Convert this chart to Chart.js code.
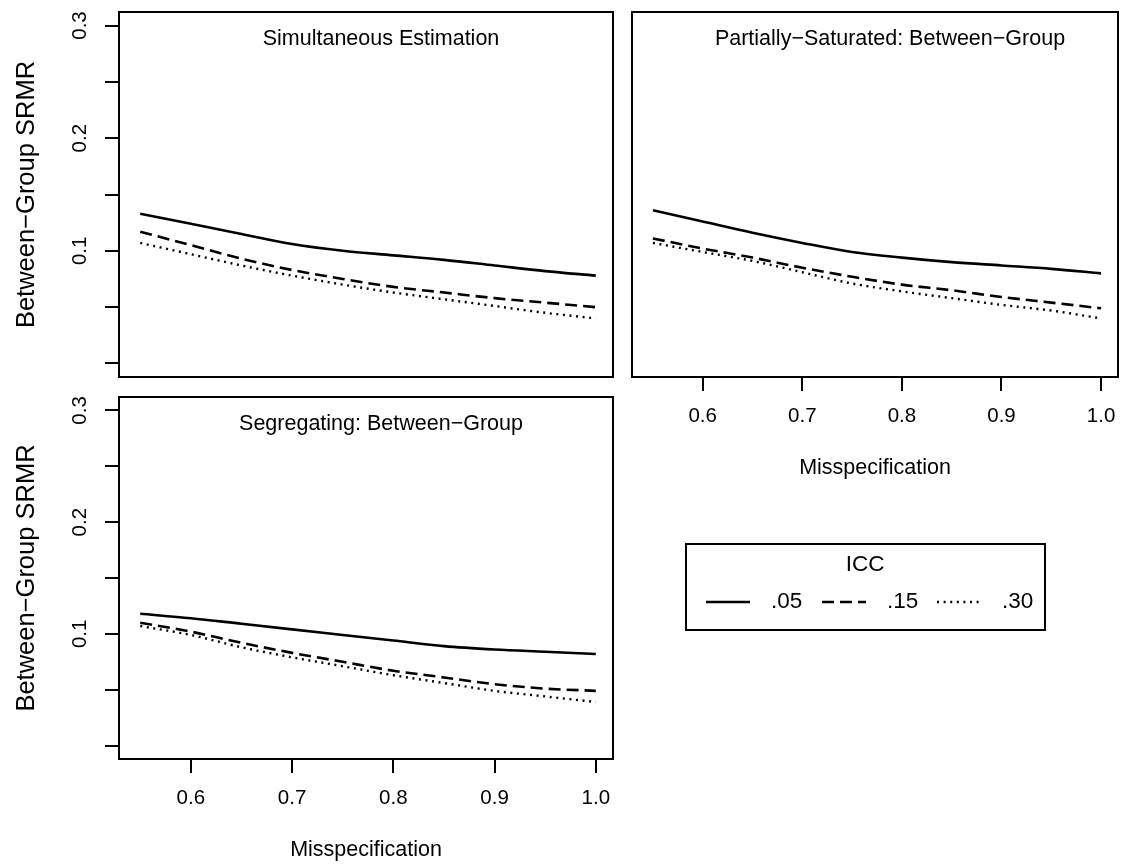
<!DOCTYPE html>
<html>
<head>
<meta charset="utf-8">
<title>Between-Group SRMR by misspecification</title>
<script src="https://cdn.jsdelivr.net/npm/chart.js@4.4.0/dist/chart.umd.min.js"></script>
<style>
  html, body { margin: 0; padding: 0; background: #fff; }
  #wrap { position: relative; width: 1136px; height: 867px; }
  #wrap canvas { position: absolute; left: 0; top: 0; }
</style>
</head>
<body>
<div id="wrap">
  <canvas id="panelSimul" width="1136" height="867"></canvas>
  <canvas id="panelPartial" width="1136" height="867"></canvas>
  <canvas id="panelSegreg" width="1136" height="867"></canvas>
</div>
<script>
// values
const misspec = [0.55, 0.60, 0.65, 0.70, 0.75, 0.80, 0.85, 0.90, 0.95, 1.00];

const simul05 = [0.133, 0.124, 0.115, 0.106, 0.100, 0.096, 0.092, 0.087, 0.082, 0.078];
const simul15 = [0.117, 0.105, 0.093, 0.083, 0.075, 0.068, 0.063, 0.058, 0.054, 0.050];
const simul30 = [0.107, 0.097, 0.087, 0.078, 0.070, 0.063, 0.057, 0.051, 0.045, 0.040];

const partial05 = [0.136, 0.126, 0.116, 0.107, 0.099, 0.094, 0.090, 0.087, 0.084, 0.080];
const partial15 = [0.111, 0.102, 0.094, 0.085, 0.077, 0.070, 0.065, 0.059, 0.054, 0.049];
const partial30 = [0.107, 0.099, 0.091, 0.081, 0.071, 0.064, 0.058, 0.052, 0.047, 0.040];

const segreg05 = [0.118, 0.114, 0.109, 0.104, 0.099, 0.094, 0.089, 0.086, 0.084, 0.082];
const segreg15 = [0.110, 0.102, 0.092, 0.083, 0.075, 0.067, 0.061, 0.055, 0.051, 0.049];
const segreg30 = [0.107, 0.099, 0.088, 0.079, 0.071, 0.063, 0.056, 0.049, 0.044, 0.039];

const panelTitles = ['Simultaneous Estimation', 'Partially\u2212Saturated: Between\u2212Group', 'Segregating: Between\u2212Group'];
const iccLabels = ['.05', '.15', '.30'];
const legendTitle = 'ICC';
const xTitle = 'Misspecification';
const yTitle = 'Between\u2212Group SRMR';
const xTicks = [0.6, 0.7, 0.8, 0.9, 1.0];
const xTickLabels = ['0.6', '0.7', '0.8', '0.9', '1.0'];
const yTicks = [0, 0.05, 0.1, 0.15, 0.2, 0.25, 0.3];
const yTickLabels = ['', '', '0.1', '', '0.2', '', '0.3'];

const FONT = '"Liberation Sans", Arial, Helvetica, sans-serif';

// solid / dashed / dotted, like lty 1, 2, 3
const lineStyles = [
    { dash: [], width: 2.6 },
    { dash: [12, 6], width: 2.6 },
    { dash: [2, 4.6], width: 2.4 }
];

function drawText(ctx, text, x, y, size, rot, align) {
    ctx.save();
    ctx.translate(x, y);
    if (rot) ctx.rotate(rot);
    ctx.font = size + 'px ' + FONT;
    ctx.fillStyle = '#000';
    ctx.textAlign = align || 'center';
    ctx.textBaseline = 'middle';
    ctx.fillText(text, 0, 0);
    ctx.restore();
}

function drawLegend(ctx) {
    ctx.save();
    ctx.strokeStyle = '#000';
    ctx.lineWidth = 2;
    ctx.strokeRect(686, 544, 359, 86);
    ctx.restore();
    drawText(ctx, legendTitle, 865, 565, 22.5);

    const rowY = 602;
    const segStarts = [706, 822, 937];
    iccLabels.forEach((lab, i) => {
        const st = lineStyles[i];
        ctx.save();
        ctx.strokeStyle = '#000';
        ctx.lineWidth = st.width;
        ctx.setLineDash(st.dash);
        ctx.beginPath();
        ctx.moveTo(segStarts[i], rowY);
        ctx.lineTo(segStarts[i] + 44, rowY);
        ctx.stroke();
        ctx.restore();
        drawText(ctx, lab, segStarts[i] + 65, rowY, 22.5, 0, 'left');
    });
}

// box, titles and axis text (R style)
const panelDecor = {
    id: 'panelDecor',
    afterDraw(chart, args, opts) {
        const ctx = chart.ctx;
        const a = chart.chartArea;
        const xs = chart.scales.x;
        const ys = chart.scales.y;

        ctx.save();
        ctx.strokeStyle = '#000';
        ctx.lineWidth = 2;
        ctx.strokeRect(a.left, a.top, a.right - a.left, a.bottom - a.top);
        ctx.restore();

        drawText(ctx, opts.title, (a.left + a.right) / 2 + 15, a.top + 27, 21.5);

        if (opts.yAxis) {
            yTicks.forEach((v, i) => {
                if (yTickLabels[i]) {
                    drawText(ctx, yTickLabels[i], a.left - 39, ys.getPixelForValue(v), 20.5, -Math.PI / 2);
                }
            });
            drawText(ctx, yTitle, a.left - 92, (a.top + a.bottom) / 2, 25.5, -Math.PI / 2);
        }
        if (opts.xAxis) {
            xTicks.forEach((v, i) => {
                drawText(ctx, xTickLabels[i], xs.getPixelForValue(v), a.bottom + 39, 20.5);
            });
            drawText(ctx, xTitle, (a.left + a.right) / 2, a.bottom + 91, 21.5);
        }
        if (opts.legend) {
            drawLegend(ctx);
        }
    }
};

function seriesData(values) {
    return values.map((v, i) => ({ x: misspec[i], y: v }));
}

function makePanel(canvasId, title, series, area, show) {
    const datasets = series.map((vals, i) => ({
        label: 'ICC ' + iccLabels[i],
        data: seriesData(vals),
        borderColor: '#000',
        borderWidth: lineStyles[i].width,
        borderDash: lineStyles[i].dash,
        pointRadius: 0,
        fill: false,
        cubicInterpolationMode: 'monotone'
    }));

    const tickGrid = {
        display: true,
        drawOnChartArea: false,
        drawTicks: true,
        tickLength: 14,
        color: '#000',
        lineWidth: 2
    };

    return new Chart(document.getElementById(canvasId), {
        type: 'line',
        data: { datasets: datasets },
        options: {
            responsive: false,
            animation: false,
            events: [],
            layout: {
                padding: {
                    left: area.left,
                    top: area.top,
                    right: 1136 - area.right,
                    bottom: 867 - area.bottom
                }
            },
            plugins: {
                legend: { display: false },
                tooltip: { enabled: false },
                panelDecor: {
                    title: title,
                    xAxis: show.x,
                    yAxis: show.y,
                    legend: show.legend
                }
            },
            scales: {
                x: {
                    type: 'linear',
                    min: 0.529,
                    max: 1.017,
                    display: show.x,
                    afterFit: s => { s.height = 0; },
                    afterBuildTicks: s => { s.ticks = xTicks.map(v => ({ value: v })); },
                    ticks: { display: false },
                    grid: tickGrid,
                    border: { display: false }
                },
                y: {
                    type: 'linear',
                    min: -0.012,
                    max: 0.312,
                    display: show.y,
                    afterFit: s => { s.width = 0; },
                    afterBuildTicks: s => { s.ticks = yTicks.map(v => ({ value: v })); },
                    ticks: { display: false },
                    grid: tickGrid,
                    border: { display: false }
                }
            }
        },
        plugins: [panelDecor]
    });
}

makePanel('panelSimul', panelTitles[0], [simul05, simul15, simul30],
    { left: 119, top: 12, right: 613, bottom: 377 }, { x: false, y: true, legend: false });
makePanel('panelPartial', panelTitles[1], [partial05, partial15, partial30],
    { left: 632, top: 12, right: 1118, bottom: 377 }, { x: true, y: false, legend: true });
makePanel('panelSegreg', panelTitles[2], [segreg05, segreg15, segreg30],
    { left: 119, top: 397, right: 613, bottom: 759 }, { x: true, y: true, legend: false });
</script>
</body>
</html>
